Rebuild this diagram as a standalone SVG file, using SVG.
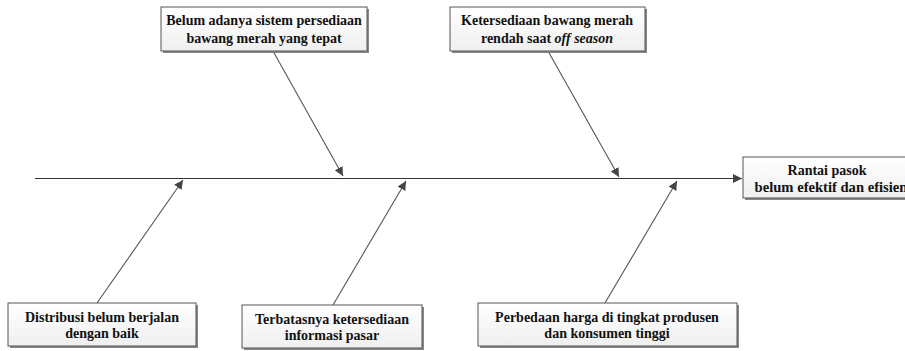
<svg xmlns="http://www.w3.org/2000/svg" width="905" height="351" viewBox="0 0 905 351">
<style>
.box{fill:url(#g);stroke:#555;stroke-width:1}
.sh{fill:#888}
.t{font-family:"Liberation Serif","Times New Roman",serif;font-weight:bold;font-size:14px;fill:#111;text-anchor:middle}
.c{stroke:#555;stroke-width:1.1;fill:none;marker-end:url(#ah)}
</style>
<defs>
<linearGradient id="g" x1="0" y1="0" x2="0" y2="1">
<stop offset="0" stop-color="#ffffff"/>
<stop offset="1" stop-color="#efefef"/>
</linearGradient>
<marker id="ah" viewBox="0 0 10 10" refX="10" refY="5" markerWidth="9" markerHeight="9" markerUnits="userSpaceOnUse" orient="auto">
<path d="M0,0 L10,5 L0,10 z" fill="#444"/>
</marker>
</defs>
<rect width="905" height="351" fill="#fff"/>
<g id="connectors">
<line class="c" x1="35" y1="178.5" x2="742" y2="178.5" style="stroke:#333"/>
<line class="c" x1="273" y1="51" x2="343" y2="176"/>
<line class="c" x1="548" y1="51" x2="619" y2="177"/>
<line class="c" x1="97" y1="303" x2="183" y2="180"/>
<line class="c" x1="333" y1="305" x2="406" y2="181"/>
<line class="c" x1="605" y1="303" x2="677" y2="181"/>
</g>
<g id="n1">
<rect class="sh" x="163" y="9" width="206" height="44"/>
<rect class="box" x="161" y="7" width="206" height="44"/>
<text class="t" x="264" y="25">Belum adanya sistem persediaan</text>
<text class="t" x="264" y="43">bawang merah yang tepat</text>
</g>
<g id="n2">
<rect class="sh" x="452" y="9" width="195" height="44"/>
<rect class="box" x="450" y="7" width="195" height="44"/>
<text class="t" x="547" y="25">Ketersediaan bawang merah</text>
<text class="t" x="547" y="43">rendah saat <tspan font-style="italic">off season</tspan></text>
</g>
<g id="n3">
<rect class="sh" x="745" y="159" width="170" height="41"/>
<rect class="box" x="743" y="157" width="170" height="41"/>
<text class="t" x="827" y="175">Rantai pasok</text>
<text class="t" x="831" y="192" style="font-size:14.6px">belum efektif dan efisien</text>
</g>
<g id="n4">
<rect class="sh" x="10" y="305" width="188" height="43"/>
<rect class="box" x="8" y="303" width="188" height="43"/>
<text class="t" x="102" y="322">Distribusi belum berjalan</text>
<text class="t" x="102" y="338">dengan baik</text>
</g>
<g id="n5">
<rect class="sh" x="244" y="307" width="180" height="43"/>
<rect class="box" x="242" y="305" width="180" height="43"/>
<text class="t" x="332" y="324">Terbatasnya ketersediaan</text>
<text class="t" x="332" y="340">informasi pasar</text>
</g>
<g id="n6">
<rect class="sh" x="480" y="305" width="259" height="43"/>
<rect class="box" x="478" y="303" width="259" height="43"/>
<text class="t" x="607" y="322">Perbedaan harga di tingkat produsen</text>
<text class="t" x="607" y="338">dan konsumen tinggi</text>
</g>
</svg>
